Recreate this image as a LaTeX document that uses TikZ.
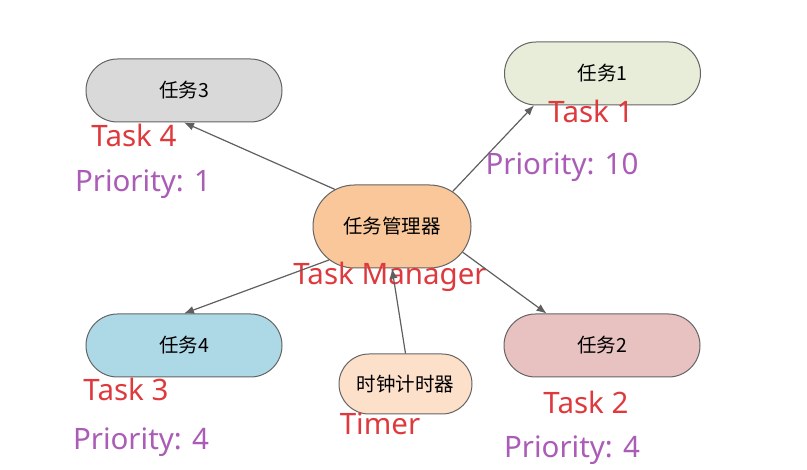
\documentclass[tikz,border=0pt]{standalone}
\usepackage{fontspec}
\setmainfont{Noto Sans}
\newfontfamily\cjk{Noto Sans CJK SC}
\usepackage{tikz}
\usetikzlibrary{
    shapes.misc,
    arrows.meta,
    positioning,
}
\definecolor{taskred}{RGB}{222,58,62}
\definecolor{prioviolet}{RGB}{170,92,182}
\definecolor{bordergray}{RGB}{100,100,100}
\definecolor{linegray}{RGB}{95,95,95}
\definecolor{fillgray}{RGB}{217,217,217}
\definecolor{fillgreen}{RGB}{231,237,216}
\definecolor{fillorange}{RGB}{249,199,154}
\definecolor{fillblue}{RGB}{173,216,230}
\definecolor{fillpeach}{RGB}{253,224,201}
\definecolor{fillpink}{RGB}{232,193,193}
\tikzset{
    task/.style = {
        rounded rectangle,
        minimum width=196pt,
        minimum height=63pt,
        inner sep=0pt,
        draw=bordergray,
        line width=1pt,
        font=\cjk\fontsize{19.5}{22}\selectfont,
    },
    tasklabel/.style = {
        text=taskred,
        inner sep=0pt,
        font=\fontsize{29.5}{32}\selectfont,
    },
    priolabel/.style = {
        text=prioviolet,
        inner sep=0pt,
        font=\fontsize{29.5}{32}\selectfont,
    },
}
\tikzstyle{arrow} = [
    draw=linegray,
    line width=1.2pt,
    ->,
    >={Latex[length=10pt,width=8pt]}
]

\begin{document}
\begin{tikzpicture}[x=1pt,y=-1pt]
        \useasboundingbox (0,0) rectangle (807,470);

        \node [task, fill=fillorange, minimum width=158pt, minimum height=83pt] (manager) at (392,226.5)
        {任务管理器};

        \node [task, fill=fillgray] (task3) at (184,90.5)
        {任务3};

        \node [task, fill=fillgreen] (task1) at (602.5,73.5)
        {任务1};

        \node [task, fill=fillblue] (task4) at (184,345.5)
        {任务4};

        \node [task, fill=fillpink] (task2) at (602,345.5)
        {任务2};

        \node [task, fill=fillpeach, minimum width=133pt, minimum height=60pt] (timer) at (405.5,384)
        {时钟计时器};

        % English names and priorities
        \node [tasklabel] (task3name) at (134,135.5) {Task 4};
        \node [priolabel] (task3prio) at (143,184) {Priority: 1};

        \node [tasklabel] (task1name) at (591,111) {Task 1};
        \node [priolabel] (task1prio) at (562,167) {Priority: 10};

        \node [tasklabel] (managername) at (390,277) {Task Manager};

        \node [tasklabel] (task4name) at (126,389) {Task 3};
        \node [priolabel] (task4prio) at (141,442) {Priority: 4};

        \node [tasklabel] (timername) at (380,424) {Timer};

        \node [tasklabel] (task2name) at (586,402) {Task 2};
        \node [priolabel] (task2prio) at (572,450) {Priority: 4};

        \draw [arrow] (manager.147) -- (task3.south);
        \draw [arrow] (manager.30) -- (task1.205);
        \draw [arrow] (manager.208) -- (task4.north);
        \draw [arrow] (manager.340) -- (task2.150);
        \draw [arrow] (timer.north) -- (manager.south);

    \end{tikzpicture}
\end{document}
